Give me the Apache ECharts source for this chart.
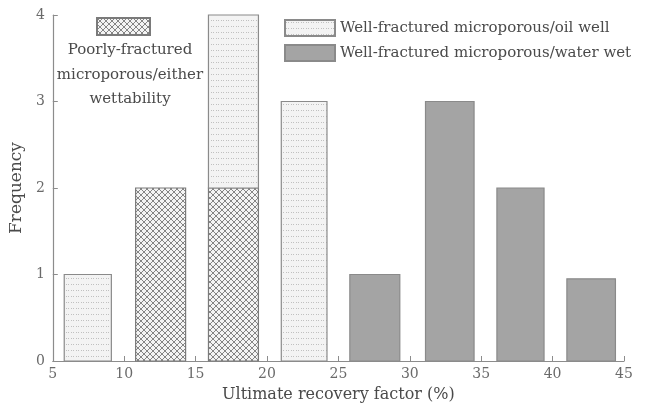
<!DOCTYPE html>
<html>
<head>
<meta charset="utf-8">
<script src="https://cdn.jsdelivr.net/npm/echarts@6/dist/echarts.min.js"></script>
<style>html,body{margin:0;padding:0;background:#fff;}#c{width:647px;height:410px;}</style>
</head>
<body>
<div id="c"></div>
<script>
// ---- data ----
const seriesNames = ['Poorly-fractured microporous/either wettability', 'Well-fractured microporous/oil well', 'Well-fractured microporous/water wet'];
const poorlyStart = [10.8, 15.9];
const poorlyEnd   = [14.3, 19.4];
const poorlyFreq  = [2, 2];
const oilStart = [5.8, 15.9, 21.0];
const oilEnd   = [9.1, 19.4, 24.2];
const oilFreq  = [1, 2, 3];
const waterStart = [25.8, 31.1, 36.1, 41.0];
const waterEnd   = [29.3, 34.5, 39.4, 44.4];
const waterFreq  = [1, 3, 2, 0.95];
const xTicks = [5, 10, 15, 20, 25, 30, 35, 40, 45];
const yTicks = [0, 1, 2, 3, 4];

// ---- patterns ----
function makeCross(){
  const n = 6;
  const c = document.createElement('canvas'); c.width = n; c.height = n;
  const g = c.getContext('2d');
  g.fillStyle = '#f4f4f4'; g.fillRect(0,0,n,n);
  g.strokeStyle = '#858585'; g.lineWidth = 1;
  g.beginPath();
  for (let k = -n; k <= n; k += n) {
    g.moveTo(k, n); g.lineTo(k + n, 0);
    g.moveTo(k, 0); g.lineTo(k + n, n);
  }
  g.stroke();
  return c;
}
function makeDots(){
  const c = document.createElement('canvas'); c.width = 5; c.height = 6;
  const g = c.getContext('2d');
  g.fillStyle = '#f3f3f3'; g.fillRect(0,0,5,6);
  g.fillStyle = '#c0c0c0'; g.fillRect(1,2,1,1); g.fillRect(3,2,1,1);
  return c;
}
const crossFill = {image: makeCross(), repeat: 'repeat'};
const dotFill = {image: makeDots(), repeat: 'repeat'};
const grayFill = '#a4a4a4';

// ---- stacking bases ----
const stackTop = {};
function build(starts, ends, freqs){
  return starts.map(function(s, i){
    const key = s.toFixed(2);
    const base = stackTop[key] || 0;
    stackTop[key] = base + freqs[i];
    return [s, ends[i], base, base + freqs[i]];
  });
}
const poorlyData = build(poorlyStart, poorlyEnd, poorlyFreq);
const oilData = build(oilStart, oilEnd, oilFreq);
const waterData = build(waterStart, waterEnd, waterFreq);

function renderRect(fill, stroke){
  return function(params, api){
    const p0 = api.coord([api.value(0), api.value(2)]);
    const p1 = api.coord([api.value(1), api.value(3)]);
    return {
      type: 'rect',
      shape: {x: p0[0], y: p1[1], width: p1[0] - p0[0], height: p0[1] - p1[1]},
      style: {fill: fill, stroke: stroke, lineWidth: 1.2}
    };
  };
}

const font = 'DejaVu Serif';
const txt = '#4a4a4a';
const chart = echarts.init(document.getElementById('c'), null, {renderer: 'canvas'});
chart.setOption({
  backgroundColor: '#ffffff',
  animation: false,
  grid: {left: 50, right: 23, top: 15, bottom: 49},
  xAxis: {
    type: 'value', min: xTicks[0], max: xTicks[xTicks.length-1], interval: 5,
    name: 'Ultimate recovery factor (%)', nameLocation: 'middle', nameGap: 26,
    nameTextStyle: {fontFamily: font, fontSize: 16, color: txt},
    axisLine: {lineStyle: {color: '#8c8c8c', width: 1.2}},
    axisTick: {inside: true, length: 5, lineStyle: {color: '#8c8c8c'}},
    axisLabel: {fontFamily: font, fontSize: 14, color: '#6a6a6a', margin: 6},
    splitLine: {show: false}
  },
  yAxis: {
    type: 'value', min: yTicks[0], max: yTicks[yTicks.length-1], interval: 1,
    name: 'Frequency', nameLocation: 'middle', nameGap: 25,
    nameTextStyle: {fontFamily: font, fontSize: 17, color: txt},
    axisLine: {show: true, lineStyle: {color: '#8c8c8c', width: 1.2}},
    axisTick: {show: true, inside: true, length: 5, lineStyle: {color: '#8c8c8c'}},
    axisLabel: {fontFamily: font, fontSize: 14, color: '#6a6a6a', margin: 8},
    splitLine: {show: false}
  },
  legend: [
    {
      data: [seriesNames[0]], left: 96, top: 17, itemWidth: 53, itemHeight: 17, icon: 'rect',
      formatter: function(){ return ''; }, padding: 0, selectedMode: false
    },
    {
      data: [seriesNames[1], seriesNames[2]], left: 284, top: 19, orient: 'vertical', icon: 'rect',
      itemWidth: 50, itemHeight: 16, itemGap: 7, padding: 0, selectedMode: false,
      textStyle: {fontFamily: font, fontSize: 15, color: txt}
    }
  ],
  graphic: [{
    type: 'text', x: 130, y: 38,
    style: {
      text: 'Poorly-fractured\nmicroporous/either\nwettability',
      font: '15px "DejaVu Serif"', fill: txt, align: 'center', verticalAlign: 'top', lineHeight: 24.5
    }
  }],
  series: [
    {name: seriesNames[0], type: 'custom', renderItem: renderRect(crossFill, '#7a7a7a'),
     itemStyle: {color: crossFill, borderColor: '#7a7a7a', borderWidth: 1},
     encode: {x: [0, 1], y: [2, 3]}, data: poorlyData},
    {name: seriesNames[1], type: 'custom', renderItem: renderRect(dotFill, '#8a8a8a'),
     itemStyle: {color: dotFill, borderColor: '#8a8a8a', borderWidth: 1},
     encode: {x: [0, 1], y: [2, 3]}, data: oilData},
    {name: seriesNames[2], type: 'custom', renderItem: renderRect(grayFill, '#8a8a8a'),
     itemStyle: {color: grayFill, borderColor: '#8a8a8a', borderWidth: 1},
     encode: {x: [0, 1], y: [2, 3]}, data: waterData}
  ]
});
</script>
</body>
</html>
